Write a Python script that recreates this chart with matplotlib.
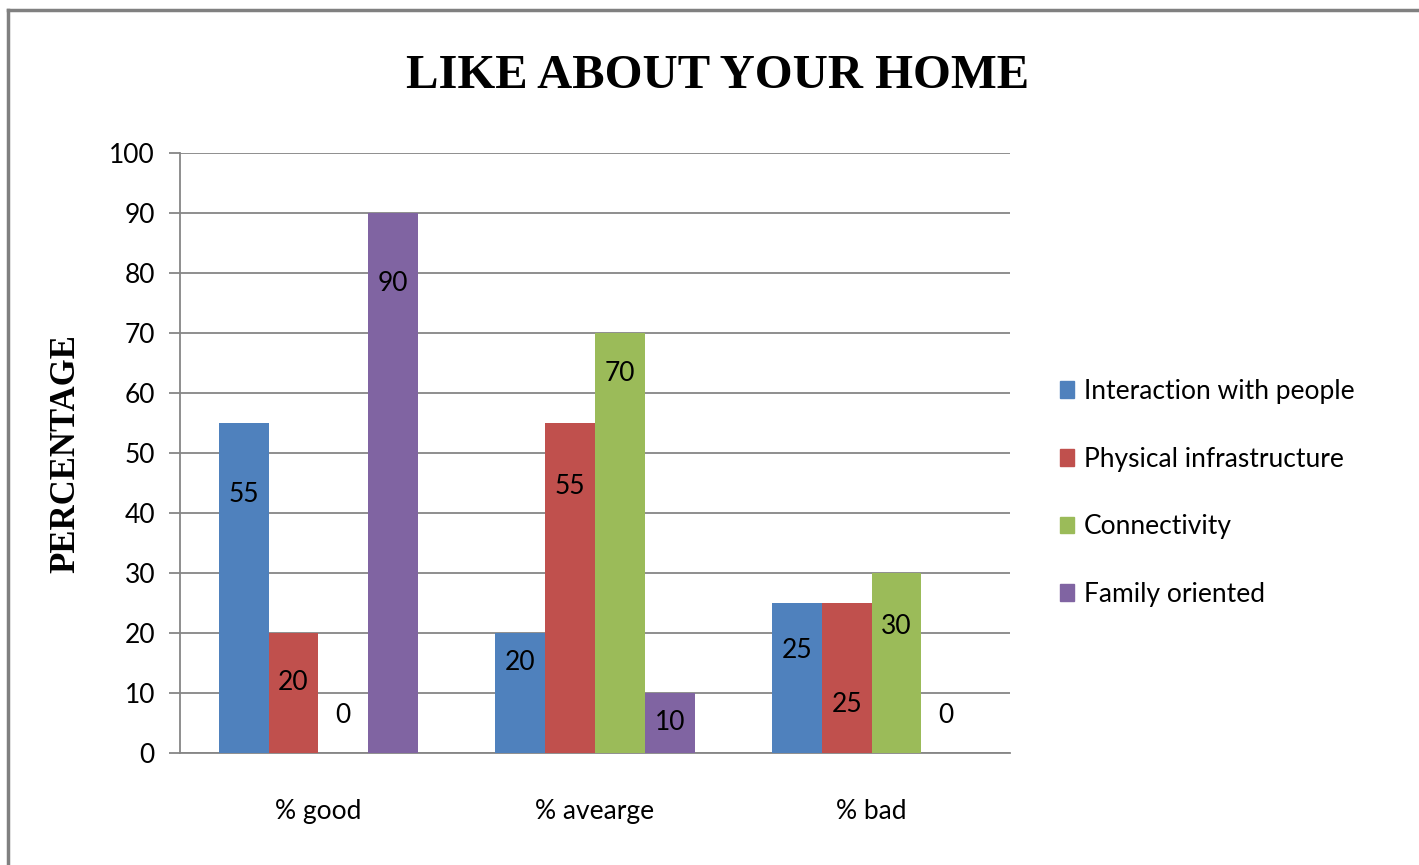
import matplotlib.pyplot as plt
import numpy as np
from matplotlib import font_manager
from matplotlib.lines import Line2D

categories = ["% good", "% avearge", "% bad"]
series_names = ["Interaction with people", "Physical infrastructure",
                "Connectivity", "Family oriented"]
interaction = [55, 20, 25]
infrastructure = [20, 55, 25]
connectivity = [0, 70, 30]
family = [90, 10, 0]
# heights where the value labels sit inside each bar
label_heights = [
    [43, 15, 17],
    [11.7, 44.5, 8],
    [6.3, 63.3, 21],
    [78.3, 5, 6.3],
]

colors = ["#4F81BD", "#C0504D", "#9BBB59", "#8064A2"]

names = {f.name for f in font_manager.fontManager.ttflist}
sans = "Liberation Sans Narrow" if "Liberation Sans Narrow" in names else "Lato"
plt.rcParams["font.family"] = [sans, "DejaVu Sans"]

fig = plt.figure(figsize=(14.19, 8.65), dpi=100)
ax = fig.add_axes([180 / 1419, 112 / 865, 830 / 1419, 600 / 865])

series = [interaction, infrastructure, connectivity, family]
x = np.arange(len(categories))
width = 0.18
for i, vals in enumerate(series):
    pos = x + (i - 1.5) * width
    ax.bar(pos, vals, width, color=colors[i], label=series_names[i], zorder=3)
    for px, v, ly in zip(pos, vals, label_heights[i]):
        ax.text(px, ly, str(v), ha="center", va="center", fontsize=19,
                color="#000000", zorder=4)

ax.set_xlim(-0.5, 2.5)
ax.set_ylim(0, 100)
ax.set_yticks(range(0, 101, 10))
ax.set_xticks(x)
ax.set_xticklabels(categories, fontsize=19)
ax.tick_params(axis="y", labelsize=19, length=8, width=1.3, color="#868686", pad=10)
ax.tick_params(axis="x", length=0, pad=33)
ax.grid(axis="y", color="#868686", linewidth=1.3, zorder=0)
for s in ["top", "right"]:
    ax.spines[s].set_visible(False)
ax.spines["left"].set_color("#868686")
ax.spines["bottom"].set_color("#868686")
ax.spines["left"].set_linewidth(1.3)
ax.spines["bottom"].set_linewidth(1.3)

fig.text(718 / 1419, 1 - 76 / 865, "LIKE ABOUT YOUR HOME", ha="center", va="center",
         fontsize=35, fontweight="bold", family="Liberation Serif")
fig.text(66 / 1419, 1 - 454 / 865, "PERCENTAGE", ha="center", va="center",
         rotation=90, fontsize=25, fontweight="bold", family="Liberation Serif")

handles = [plt.Rectangle((0, 0), 1, 1, color=c) for c in colors]
fig.legend(handles, series_names, loc="center left",
           bbox_to_anchor=(1036 / 1419, 1 - 493 / 865), frameon=False,
           fontsize=19, handlelength=0.55, handleheight=0.6, handletextpad=0.35,
           labelspacing=1.62)

# outer chart frame
fig.add_artist(Line2D([8 / 1419, 8 / 1419], [0, 1 - 10 / 865],
                      transform=fig.transFigure, color="#808080", linewidth=2.5))
fig.add_artist(Line2D([8 / 1419, 1], [1 - 10 / 865, 1 - 10 / 865],
                      transform=fig.transFigure, color="#808080", linewidth=2.5))

fig.savefig("out.png", dpi=100)
